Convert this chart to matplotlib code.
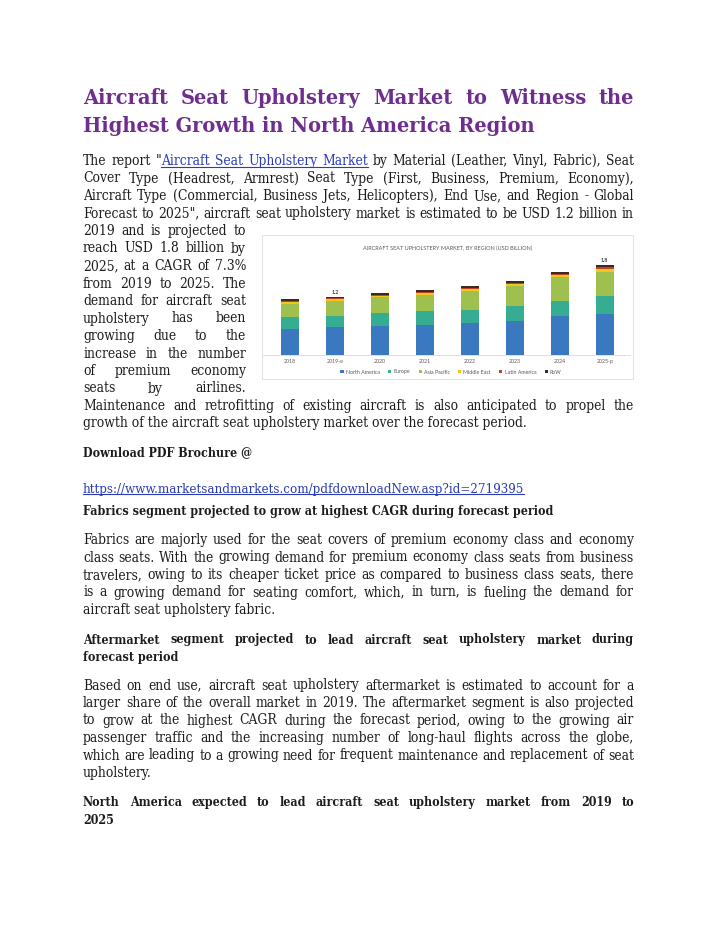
import matplotlib
matplotlib.use("Agg")
import matplotlib.pyplot as plt
import numpy as np
from matplotlib.font_manager import FontProperties
from matplotlib.patches import Rectangle
from matplotlib.lines import Line2D

# chart data (USD billion)
years = ["2018", "2019-e", "2020", "2021", "2022", "2023", "2024", "2025-p"]
north_america = [0.54, 0.57, 0.60, 0.62, 0.67, 0.71, 0.80, 0.85]
europe = [0.24, 0.24, 0.26, 0.28, 0.27, 0.30, 0.32, 0.37]
asia_pacific = [0.28, 0.31, 0.33, 0.35, 0.39, 0.42, 0.49, 0.49]
middle_east = [0.03, 0.03, 0.03, 0.03, 0.03, 0.03, 0.04, 0.07]
latin_america = [0.03, 0.02, 0.02, 0.03, 0.03, 0.03, 0.035, 0.035]
rest_of_world = [0.035, 0.035, 0.035, 0.035, 0.035, 0.04, 0.04, 0.04]
regions = ["North America", "Europe", "Asia Pacific", "Middle East", "Latin America", "RoW"]
region_colors = ["#3a78c0", "#36ad93", "#9dc04e", "#f5c518", "#c0432c", "#3a2a22"]
total_labels = {"2019-e": "1.2", "2025-p": "1.8"}

# page text
first_line = 'The report "Aircraft Seat Upholstery Market by Material (Leather, Vinyl, Fabric), Seat'
full_lines = [
    "Cover Type (Headrest, Armrest) Seat Type (First, Business, Premium, Economy),",
    "Aircraft Type (Commercial, Business Jets, Helicopters), End Use, and Region - Global",
    'Forecast to 2025", aircraft seat upholstery market is estimated to be USD 1.2 billion in',
]
narrow_lines = [
    "2019 and is projected to",
    "reach USD 1.8 billion by",
    "2025, at a CAGR of 7.3%",
    "from 2019 to 2025. The",
    "demand for aircraft seat",
    "upholstery has been",
    "growing due to the",
    "increase in the number",
    "of premium economy",
    "seats by airlines.",
]
p1_tail = ["Maintenance and retrofitting of existing aircraft is also anticipated to propel the",
           "growth of the aircraft seat upholstery market over the forecast period."]
para2 = [
    "Fabrics are majorly used for the seat covers of premium economy class and economy",
    "class seats. With the growing demand for premium economy class seats from business",
    "travelers, owing to its cheaper ticket price as compared to business class seats, there",
    "is a growing demand for seating comfort, which, in turn, is fueling the demand for",
    "aircraft seat upholstery fabric.",
]
para3 = [
    "Based on end use, aircraft seat upholstery aftermarket is estimated to account for a",
    "larger share of the overall market in 2019. The aftermarket segment is also projected",
    "to grow at the highest CAGR during the forecast period, owing to the growing air",
    "passenger traffic and the increasing number of long-haul flights across the globe,",
    "which are leading to a growing need for frequent maintenance and replacement of seat",
    "upholstery.",
]
url_text = "https://www.marketsandmarkets.com/pdfdownloadNew.asp?id=2719395"

W, H = 720, 931
TEXT = "#1c1c1c"
LINK = "#2a3cb8"
PURPLE = "#6f2e8f"
SERIF = ["DejaVu Serif Condensed", "DejaVu Serif"]

fig = plt.figure(figsize=(7.2, 9.31), dpi=100)
fig.patch.set_facecolor("white")
renderer = fig.canvas.get_renderer()


def fx(px):
    return px / W


def fy(py):
    return 1 - py / H


def text_width(s, prop):
    w, h, d = renderer.get_text_width_height_descent(s, prop, ismath=False)
    return w


def sized(size, weight="normal", stretch="condensed"):
    if stretch == "condensed":
        return FontProperties(family=SERIF, weight=weight, size=size, stretch=stretch)
    return FontProperties(family="DejaVu Serif", weight=weight, size=size)


def fit_size(samples, target, weight="normal", stretch="condensed"):
    p = sized(10, weight, stretch)
    return 10 * target / max(text_width(s, p) for s in samples)


# body size: the longest justified line should keep near-natural spacing
wide = [first_line] + full_lines + [p1_tail[0]] + para2[:4] + para3[:5]
body = sized(fit_size(wide, 549))
bold = sized(fit_size(["Fabrics segment projected to grow at highest CAGR during forecast period"],
                      469, "bold"), "bold")
title = sized(fit_size(["Highest Growth in North America Region"], 454, "bold", "normal"),
              "bold", "normal")
url_prop = sized(fit_size([url_text], 439))


def plain(yc, s, prop=body, color=TEXT, off=3.5, x0=83):
    fig.text(fx(x0), fy(yc + off), s, fontproperties=prop, color=color, ha="left", va="baseline")


def justified(words, yc, x0=83, x1=634, prop=body, color=TEXT, off=3.5):
    # a word is either a plain string or a list of (text, color, underline) pieces
    segs = [w if isinstance(w, list) else [(w, color, False)] for w in words]
    widths = [[text_width(s, prop) for s, c, u in w] for w in segs]
    totals = [sum(ws) for ws in widths]
    space = text_width("a a", prop) - text_width("aa", prop)
    gap = max((x1 - x0 - sum(totals)) / (len(segs) - 1), space * 0.8)
    y = yc + off
    x = x0
    under = []
    for w, ws in zip(segs, widths):
        for (s, c, u), sw in zip(w, ws):
            fig.text(fx(x), fy(y), s, fontproperties=prop, color=c, ha="left", va="baseline")
            if u:
                if under and abs(under[-1][1] + gap - x) < 0.5:
                    under[-1][1] = x + sw
                else:
                    under.append([x, x + sw, c])
            x += sw
        x += gap
    for a, b, c in under:
        fig.add_artist(Line2D([fx(a), fx(b)], [fy(y + 2), fy(y + 2)], color=c, lw=0.8))


def link(word):
    return [(word, LINK, True)]


# title
justified("Aircraft Seat Upholstery Market to Witness the".split(), 97.5, prop=title,
          color=PURPLE, off=6)
plain(126.5, "Highest Growth in North America Region", prop=title, color=PURPLE, off=6)

# first paragraph, wrapped round the chart
first = first_line.split()
first = first[:2] + [[('"', TEXT, False), ("Aircraft", LINK, True)], link("Seat"),
                     link("Upholstery"), link("Market")] + first[6:]
y0, step = 161.5, 17.5
justified(first, y0)
for i, s in enumerate(full_lines):
    justified(s.split(), y0 + step * (i + 1))
for i, s in enumerate(narrow_lines):
    justified(s.split(), y0 + step * (i + 4), x1=246)
justified(p1_tail[0].split(), y0 + step * 14)
plain(y0 + step * 15, p1_tail[1])

plain(453, "Download PDF Brochure @", prop=bold)
plain(489, url_text, prop=url_prop, color=LINK)
uw = text_width(url_text, url_prop)
fig.add_artist(Line2D([fx(83), fx(83 + uw)], [fy(494.5), fy(494.5)], color=LINK, lw=0.8))
plain(511, "Fabrics segment projected to grow at highest CAGR during forecast period", prop=bold)

for i, s in enumerate(para2[:4]):
    justified(s.split(), 540.5 + step * i)
plain(540.5 + step * 4, para2[4])

justified("Aftermarket segment projected to lead aircraft seat upholstery market during".split(),
          640, prop=bold)
plain(657.5, "forecast period", prop=bold)

for i, s in enumerate(para3[:5]):
    justified(s.split(), 686 + step * i)
plain(686 + step * 5, para3[5])

justified("North America expected to lead aircraft seat upholstery market from 2019 to".split(),
          802.5, prop=bold)
plain(820, "2025", prop=bold)

# embedded chart
fig.add_artist(Rectangle((fx(262), fy(379)), fx(633) - fx(262), (379 - 235) / H,
                         transform=fig.transFigure, fill=False, ec="#e4e4e4", lw=0.8))
fig.text(fx(448), fy(248), "AIRCRAFT SEAT UPHOLSTERY MARKET, BY REGION (USD BILLION)",
         family="Lato", fontsize=4.0, color="#595959", ha="center", va="center")

ax = fig.add_axes([fx(263), fy(355), fx(630) - fx(263), (355 - 258.3) / H])
x = np.arange(len(years))
series = [north_america, europe, asia_pacific, middle_east, latin_america, rest_of_world]
bottom = np.zeros(len(years))
handles = []
for name, vals, col in zip(regions, series, region_colors):
    b = ax.bar(x, vals, 0.4, bottom=bottom, color=col, lw=0, label=name)
    handles.append(b)
    bottom += np.array(vals)
for i, yr in enumerate(years):
    if yr in total_labels:
        ax.text(i, bottom[i] + 0.04, total_labels[yr], ha="center", va="bottom",
                family="Lato", fontsize=3.8, weight="bold", color="#404040")
ax.set_xlim(-0.6, 7.56)
ax.set_ylim(0, 2.0)
ax.set_xticks(x)
ax.set_xticklabels(years, family="Lato", fontsize=3.8, color="#595959")
ax.set_yticks([])
ax.tick_params(axis="x", length=0, pad=3)
for side in ["top", "left", "right"]:
    ax.spines[side].set_visible(False)
ax.spines["bottom"].set_color("#d9d9d9")
ax.spines["bottom"].set_linewidth(0.6)
ax.patch.set_alpha(0)

fig.legend(handles, regions, ncol=6, loc="center", bbox_to_anchor=(fx(451), fy(372)),
           frameon=False, prop=FontProperties(family="Lato", size=3.8),
           handlelength=0.6, handleheight=0.6, handletextpad=0.4, columnspacing=1.6,
           labelcolor="#595959")

fig.savefig("out.png", dpi=100, facecolor="white")
